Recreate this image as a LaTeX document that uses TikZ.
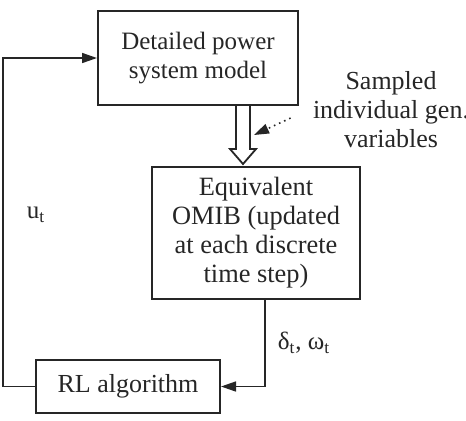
\documentclass[tikz,border=0pt]{standalone}
\usepackage{fontspec}
\setmainfont{Liberation Serif}
\usetikzlibrary{arrows.meta,calc}
\begin{document}
\begin{tikzpicture}[x=0.5pt, y=-0.5pt, >={Triangle[length=7.5pt,width=5pt]},
  font=\fontsize{12.5}{14.5}\selectfont, every node/.style={text=black!85},
  blockbox/.style={draw=black!85, line width=1pt, align=center, inner sep=0pt},
  link/.style={draw=black!85, line width=0.8pt}]
  \useasboundingbox (0,0) rectangle (466,420);

  % Blocks
  \node[blockbox, minimum width=100pt, minimum height=47pt] (model) at (198,58)
    {Detailed power\\system model};
  \node[blockbox, minimum width=104pt, minimum height=66pt,
    font=\fontsize{13.2}{14.5}\selectfont] (omib) at (256,233)
    {Equivalent\\OMIB (updated\\at each discrete\\time step)};
  \node[blockbox, minimum width=92pt, minimum height=26.5pt,
    font=\fontsize{13}{14.5}\selectfont] (rl) at (128,386.5)
    {RL algorithm};

  % Hollow arrow from model to OMIB
  \coordinate (hs) at ([xshift=22.5pt]model.south);
  \coordinate (ht) at ([yshift=1pt]hs |- omib.north);
  \draw[line width=0.9pt, draw=black!85, fill=white]
    ($(hs)+(-3.5pt,0)$) -- ($(ht)+(-3.5pt,7.5pt)$) -- ($(ht)+(-6.5pt,7.5pt)$)
    -- (ht) -- ($(ht)+(6.5pt,7.5pt)$) -- ($(ht)+(3.5pt,7.5pt)$)
    -- ($(hs)+(3.5pt,0)$);

  % Sampled variables
  \node[align=center, font=\fontsize{13}{14.5}\selectfont, inner sep=1pt] (samp) at (391,110)
    {Sampled\\individual gen.\\variables};
  \coordinate (sv) at ($(hs)+(5.5pt,-14.5pt)$);
  \draw[link, dotted, ->] ($(samp.west)+(-10pt,-4pt)$) -- (sv);

  % Feedback loop
  \draw[link, ->] ([xshift=4.5pt]omib.south) |- (rl.east);
  \draw[link, ->] (rl.west) -- ++(-16pt,0) |- (model.west);

  % Signals
  \node (ut) at (36,215) {u\textsubscript{t}};
  \node (dw) at (304,343) {δ\textsubscript{t}, ω\textsubscript{t}};
\end{tikzpicture}
\end{document}
